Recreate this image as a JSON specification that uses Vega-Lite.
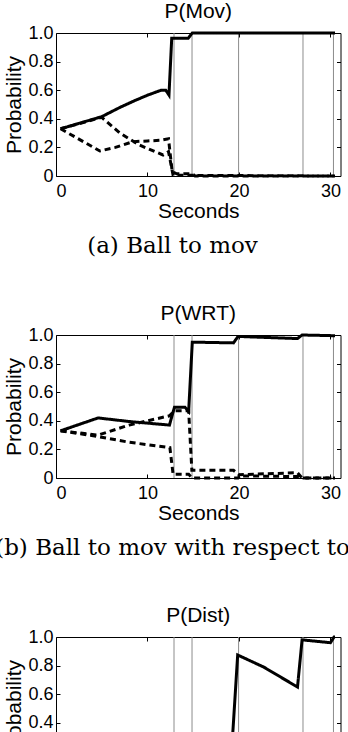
{
  "$schema": "https://vega.github.io/schema/vega-lite/v6.json",
  "padding": {"left": -5, "top": 0, "right": 0, "bottom": 0},
  "background": "white",
  "spacing": 44,
  "config": {
    "view": {"stroke": "black", "strokeWidth": 1},
    "font": "Liberation Sans",
    "title": {"font": "Liberation Sans", "fontSize": 21, "fontWeight": "normal", "color": "black"},
    "axis": {"grid": false, "domain": false, "tickColor": "black", "tickSize": -4, "labelColor": "black", "labelFont": "Liberation Sans", "labelFontSize": 18, "titleFont": "Liberation Sans", "titleFontSize": 21, "titleFontWeight": "normal", "titleColor": "black"}
  },
  "datasets": {
    "events": [{"t": 12.9}, {"t": 14.87}, {"t": 19.96}, {"t": 27.0}, {"t": 30.33}],
    "lines": [
      {"panel": "Mov", "series": "s", "kind": "solid", "t": 0.5, "p": 0.33},
      {"panel": "Mov", "series": "s", "kind": "solid", "t": 5.0, "p": 0.415},
      {"panel": "Mov", "series": "s", "kind": "solid", "t": 7.0, "p": 0.48},
      {"panel": "Mov", "series": "s", "kind": "solid", "t": 8.6, "p": 0.527},
      {"panel": "Mov", "series": "s", "kind": "solid", "t": 10.0, "p": 0.565},
      {"panel": "Mov", "series": "s", "kind": "solid", "t": 11.5, "p": 0.6},
      {"panel": "Mov", "series": "s", "kind": "solid", "t": 12.0, "p": 0.6},
      {"panel": "Mov", "series": "s", "kind": "solid", "t": 12.35, "p": 0.566},
      {"panel": "Mov", "series": "s", "kind": "solid", "t": 12.65, "p": 0.963},
      {"panel": "Mov", "series": "s", "kind": "solid", "t": 14.45, "p": 0.963},
      {"panel": "Mov", "series": "s", "kind": "solid", "t": 14.9, "p": 1.0},
      {"panel": "Mov", "series": "s", "kind": "solid", "t": 30.5, "p": 1.0},
      {"panel": "Mov", "series": "a", "kind": "dashed", "t": 0.5, "p": 0.33},
      {"panel": "Mov", "series": "a", "kind": "dashed", "t": 4.8, "p": 0.175},
      {"panel": "Mov", "series": "a", "kind": "dashed", "t": 6.5, "p": 0.2},
      {"panel": "Mov", "series": "a", "kind": "dashed", "t": 8.4, "p": 0.24},
      {"panel": "Mov", "series": "a", "kind": "dashed", "t": 10.0, "p": 0.245},
      {"panel": "Mov", "series": "a", "kind": "dashed", "t": 11.5, "p": 0.25},
      {"panel": "Mov", "series": "a", "kind": "dashed", "t": 12.3, "p": 0.26},
      {"panel": "Mov", "series": "a", "kind": "dashed", "t": 12.7, "p": 0.03},
      {"panel": "Mov", "series": "a", "kind": "dashed", "t": 13.2, "p": 0.015},
      {"panel": "Mov", "series": "a", "kind": "dashed", "t": 14.9, "p": 0.015},
      {"panel": "Mov", "series": "a", "kind": "dashed", "t": 15.2, "p": 0.0},
      {"panel": "Mov", "series": "a", "kind": "dashed", "t": 30.5, "p": 0.0},
      {"panel": "Mov", "series": "b", "kind": "dashed", "t": 0.5, "p": 0.33},
      {"panel": "Mov", "series": "b", "kind": "dashed", "t": 5.0, "p": 0.41},
      {"panel": "Mov", "series": "b", "kind": "dashed", "t": 7.0, "p": 0.3},
      {"panel": "Mov", "series": "b", "kind": "dashed", "t": 9.1, "p": 0.217},
      {"panel": "Mov", "series": "b", "kind": "dashed", "t": 11.7, "p": 0.147},
      {"panel": "Mov", "series": "b", "kind": "dashed", "t": 12.3, "p": 0.17},
      {"panel": "Mov", "series": "b", "kind": "dashed", "t": 12.8, "p": 0.005},
      {"panel": "Mov", "series": "b", "kind": "dashed", "t": 30.5, "p": 0.0},
      {"panel": "WRT", "series": "s", "kind": "solid", "t": 0.5, "p": 0.33},
      {"panel": "WRT", "series": "s", "kind": "solid", "t": 4.6, "p": 0.42},
      {"panel": "WRT", "series": "s", "kind": "solid", "t": 8.0, "p": 0.395},
      {"panel": "WRT", "series": "s", "kind": "solid", "t": 12.4, "p": 0.37},
      {"panel": "WRT", "series": "s", "kind": "solid", "t": 12.95, "p": 0.495},
      {"panel": "WRT", "series": "s", "kind": "solid", "t": 14.1, "p": 0.495},
      {"panel": "WRT", "series": "s", "kind": "solid", "t": 14.5, "p": 0.465},
      {"panel": "WRT", "series": "s", "kind": "solid", "t": 14.9, "p": 0.95},
      {"panel": "WRT", "series": "s", "kind": "solid", "t": 19.4, "p": 0.945},
      {"panel": "WRT", "series": "s", "kind": "solid", "t": 19.9, "p": 0.99},
      {"panel": "WRT", "series": "s", "kind": "solid", "t": 26.4, "p": 0.975},
      {"panel": "WRT", "series": "s", "kind": "solid", "t": 26.9, "p": 1.0},
      {"panel": "WRT", "series": "s", "kind": "solid", "t": 30.5, "p": 0.995},
      {"panel": "WRT", "series": "c", "kind": "dashed", "t": 0.5, "p": 0.33},
      {"panel": "WRT", "series": "c", "kind": "dashed", "t": 4.6, "p": 0.3},
      {"panel": "WRT", "series": "c", "kind": "dashed", "t": 8.0, "p": 0.37},
      {"panel": "WRT", "series": "c", "kind": "dashed", "t": 12.4, "p": 0.435},
      {"panel": "WRT", "series": "c", "kind": "dashed", "t": 12.95, "p": 0.47},
      {"panel": "WRT", "series": "c", "kind": "dashed", "t": 14.5, "p": 0.47},
      {"panel": "WRT", "series": "c", "kind": "dashed", "t": 14.85, "p": 0.055},
      {"panel": "WRT", "series": "c", "kind": "dashed", "t": 19.4, "p": 0.054},
      {"panel": "WRT", "series": "c", "kind": "dashed", "t": 20.0, "p": 0.023},
      {"panel": "WRT", "series": "c", "kind": "dashed", "t": 26.4, "p": 0.037},
      {"panel": "WRT", "series": "c", "kind": "dashed", "t": 26.9, "p": 0.0},
      {"panel": "WRT", "series": "c", "kind": "dashed", "t": 30.5, "p": 0.0},
      {"panel": "WRT", "series": "d", "kind": "dashed", "t": 0.5, "p": 0.33},
      {"panel": "WRT", "series": "d", "kind": "dashed", "t": 4.6, "p": 0.29},
      {"panel": "WRT", "series": "d", "kind": "dashed", "t": 8.0, "p": 0.25},
      {"panel": "WRT", "series": "d", "kind": "dashed", "t": 12.45, "p": 0.212},
      {"panel": "WRT", "series": "d", "kind": "dashed", "t": 12.8, "p": 0.026},
      {"panel": "WRT", "series": "d", "kind": "dashed", "t": 14.5, "p": 0.026},
      {"panel": "WRT", "series": "d", "kind": "dashed", "t": 14.9, "p": 0.0},
      {"panel": "WRT", "series": "d", "kind": "dashed", "t": 19.9, "p": 0.0},
      {"panel": "WRT", "series": "d", "kind": "dashed", "t": 20.1, "p": 0.015},
      {"panel": "WRT", "series": "d", "kind": "dashed", "t": 26.5, "p": 0.01},
      {"panel": "WRT", "series": "d", "kind": "dashed", "t": 27.0, "p": 0.0},
      {"panel": "WRT", "series": "d", "kind": "dashed", "t": 30.5, "p": 0.0},
      {"panel": "Dist", "series": "s", "kind": "solid", "t": 0.5, "p": 0.2},
      {"panel": "Dist", "series": "s", "kind": "solid", "t": 12.9, "p": 0.2},
      {"panel": "Dist", "series": "s", "kind": "solid", "t": 13.2, "p": 0.12},
      {"panel": "Dist", "series": "s", "kind": "solid", "t": 19.1, "p": 0.1},
      {"panel": "Dist", "series": "s", "kind": "solid", "t": 19.86, "p": 0.874},
      {"panel": "Dist", "series": "s", "kind": "solid", "t": 22.7, "p": 0.79},
      {"panel": "Dist", "series": "s", "kind": "solid", "t": 26.4, "p": 0.65},
      {"panel": "Dist", "series": "s", "kind": "solid", "t": 26.9, "p": 0.98},
      {"panel": "Dist", "series": "s", "kind": "solid", "t": 30.0, "p": 0.96},
      {"panel": "Dist", "series": "s", "kind": "solid", "t": 30.4, "p": 1.0},
      {"panel": "Dist", "series": "s", "kind": "solid", "t": 30.5, "p": 1.0},
      {"panel": "Dist", "series": "e", "kind": "dashed", "t": 0.5, "p": 0.2},
      {"panel": "Dist", "series": "e", "kind": "dashed", "t": 12.9, "p": 0.2},
      {"panel": "Dist", "series": "e", "kind": "dashed", "t": 13.2, "p": 0.25},
      {"panel": "Dist", "series": "e", "kind": "dashed", "t": 19.1, "p": 0.25},
      {"panel": "Dist", "series": "e", "kind": "dashed", "t": 19.86, "p": 0.06},
      {"panel": "Dist", "series": "e", "kind": "dashed", "t": 26.4, "p": 0.17},
      {"panel": "Dist", "series": "e", "kind": "dashed", "t": 26.9, "p": 0.01},
      {"panel": "Dist", "series": "e", "kind": "dashed", "t": 30.5, "p": 0.0},
      {"panel": "Dist", "series": "f", "kind": "dashed", "t": 0.5, "p": 0.2},
      {"panel": "Dist", "series": "f", "kind": "dashed", "t": 12.9, "p": 0.2},
      {"panel": "Dist", "series": "f", "kind": "dashed", "t": 19.1, "p": 0.2},
      {"panel": "Dist", "series": "f", "kind": "dashed", "t": 19.86, "p": 0.06},
      {"panel": "Dist", "series": "f", "kind": "dashed", "t": 26.4, "p": 0.18},
      {"panel": "Dist", "series": "f", "kind": "dashed", "t": 26.9, "p": 0.01},
      {"panel": "Dist", "series": "f", "kind": "dashed", "t": 30.5, "p": 0.0}
    ]
  },
  "vconcat": [
    {
      "title": {"text": "(a) Ball to mov", "orient": "bottom", "font": "DejaVu Serif", "fontSize": 23, "fontWeight": "normal", "anchor": "middle", "frame": "bounds", "offset": 13},
      "vconcat": [
        {
          "title": {"text": "P(Mov)", "anchor": "middle", "frame": "group", "offset": 2},
          "width": 284.5,
          "height": 143,
          "resolve": {"axis": {"x": "independent", "y": "independent"}},
          "layer": [
            {
              "data": {"name": "events"},
              "mark": {"type": "rule", "color": "#8c8c8c", "strokeWidth": 1},
              "encoding": {
                "x": {"field": "t", "type": "quantitative", "scale": {"domain": [0, 31.1], "nice": false}, "axis": {"orient": "top", "values": [10, 20, 30], "labels": false, "title": null}},
                "y": {"datum": 0, "type": "quantitative", "scale": {"domain": [0, 1], "nice": false}, "axis": {"orient": "right", "values": [0, 0.2, 0.4, 0.6, 0.8, 1], "labels": false, "title": null}},
                "y2": {"datum": 1}
              }
            },
            {
              "data": {"name": "lines"},
              "transform": [{"filter": "datum.panel === 'Mov'"}],
              "mark": {"type": "line", "color": "black", "strokeWidth": 3},
              "encoding": {
                "x": {"field": "t", "type": "quantitative", "axis": {"orient": "bottom", "values": [0, 10, 20, 30], "title": "Seconds", "labelPadding": 10, "titlePadding": 0}},
                "y": {"field": "p", "type": "quantitative", "axis": {"orient": "left", "values": [0, 0.2, 0.4, 0.6, 0.8, 1], "labelExpr": "datum.value == 0 ? '0' : format(datum.value, '.1f')", "title": "Probability", "labelPadding": 7, "titlePadding": 3}},
                "detail": {"field": "series"},
                "strokeDash": {"field": "kind", "type": "nominal", "scale": {"domain": ["solid", "dashed"], "range": [[1, 0], [6, 4]]}, "legend": null}
              }
            }
          ]
        }
      ]
    },
    {
      "title": {"text": "(b) Ball to mov with respect to", "orient": "bottom", "font": "DejaVu Serif", "fontSize": 23, "fontWeight": "normal", "anchor": "middle", "frame": "bounds", "offset": 13},
      "vconcat": [
        {
          "title": {"text": "P(WRT)", "anchor": "middle", "frame": "group", "offset": 2},
          "width": 284.5,
          "height": 143,
          "resolve": {"axis": {"x": "independent", "y": "independent"}},
          "layer": [
            {
              "data": {"name": "events"},
              "mark": {"type": "rule", "color": "#8c8c8c", "strokeWidth": 1},
              "encoding": {
                "x": {"field": "t", "type": "quantitative", "scale": {"domain": [0, 31.1], "nice": false}, "axis": {"orient": "top", "values": [10, 20, 30], "labels": false, "title": null}},
                "y": {"datum": 0, "type": "quantitative", "scale": {"domain": [0, 1], "nice": false}, "axis": {"orient": "right", "values": [0, 0.2, 0.4, 0.6, 0.8, 1], "labels": false, "title": null}},
                "y2": {"datum": 1}
              }
            },
            {
              "data": {"name": "lines"},
              "transform": [{"filter": "datum.panel === 'WRT'"}],
              "mark": {"type": "line", "color": "black", "strokeWidth": 3},
              "encoding": {
                "x": {"field": "t", "type": "quantitative", "axis": {"orient": "bottom", "values": [0, 10, 20, 30], "title": "Seconds", "labelPadding": 10, "titlePadding": 0}},
                "y": {"field": "p", "type": "quantitative", "axis": {"orient": "left", "values": [0, 0.2, 0.4, 0.6, 0.8, 1], "labelExpr": "datum.value == 0 ? '0' : format(datum.value, '.1f')", "title": "Probability", "labelPadding": 7, "titlePadding": 3}},
                "detail": {"field": "series"},
                "strokeDash": {"field": "kind", "type": "nominal", "scale": {"domain": ["solid", "dashed"], "range": [[1, 0], [6, 4]]}, "legend": null}
              }
            }
          ]
        }
      ]
    },
    {
      "vconcat": [
        {
          "title": {"text": "P(Dist)", "anchor": "middle", "frame": "group", "offset": 2},
          "width": 284.5,
          "height": 143,
          "resolve": {"axis": {"x": "independent", "y": "independent"}},
          "layer": [
            {
              "data": {"name": "events"},
              "mark": {"type": "rule", "color": "#8c8c8c", "strokeWidth": 1},
              "encoding": {
                "x": {"field": "t", "type": "quantitative", "scale": {"domain": [0, 31.1], "nice": false}, "axis": {"orient": "top", "values": [10, 20, 30], "labels": false, "title": null}},
                "y": {"datum": 0, "type": "quantitative", "scale": {"domain": [0, 1], "nice": false}, "axis": {"orient": "right", "values": [0, 0.2, 0.4, 0.6, 0.8, 1], "labels": false, "title": null}},
                "y2": {"datum": 1}
              }
            },
            {
              "data": {"name": "lines"},
              "transform": [{"filter": "datum.panel === 'Dist'"}],
              "mark": {"type": "line", "color": "black", "strokeWidth": 3},
              "encoding": {
                "x": {"field": "t", "type": "quantitative", "axis": {"orient": "bottom", "values": [0, 10, 20, 30], "title": "Seconds", "labelPadding": 10, "titlePadding": 0}},
                "y": {"field": "p", "type": "quantitative", "axis": {"orient": "left", "values": [0, 0.2, 0.4, 0.6, 0.8, 1], "labelExpr": "datum.value == 0 ? '0' : format(datum.value, '.1f')", "title": "Probability", "labelPadding": 7, "titlePadding": 3}},
                "detail": {"field": "series"},
                "strokeDash": {"field": "kind", "type": "nominal", "scale": {"domain": ["solid", "dashed"], "range": [[1, 0], [6, 4]]}, "legend": null}
              }
            }
          ]
        }
      ]
    }
  ]
}
